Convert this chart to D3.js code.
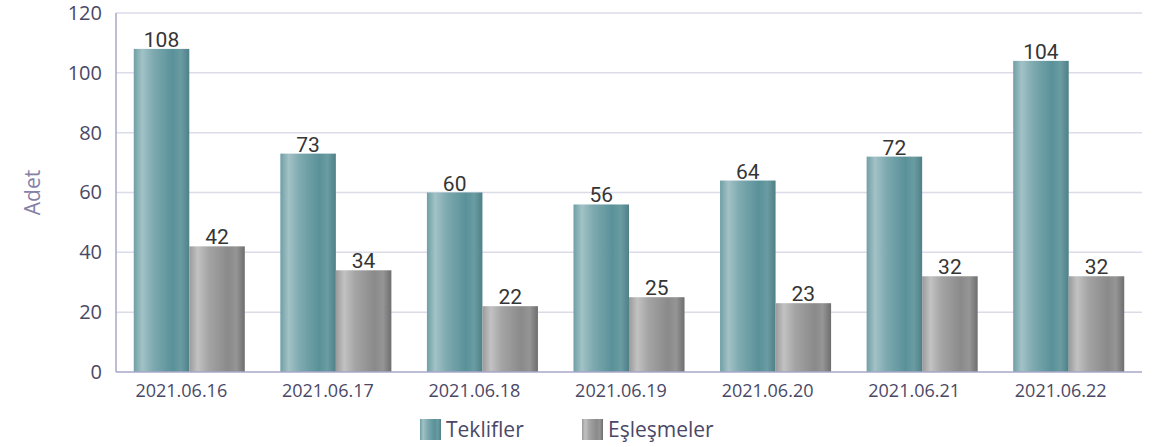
<!DOCTYPE html>
<html><head><meta charset="utf-8">
<script src="https://cdn.jsdelivr.net/npm/d3@7"></script>
<style>body{margin:0;background:#fff;}svg{display:block;font-family:"Open Sans",sans-serif;}</style>
</head><body>
<svg id="c" width="1155" height="447"></svg>
<script>
const categories = ["2021.06.16","2021.06.17","2021.06.18","2021.06.19","2021.06.20","2021.06.21","2021.06.22"];
const teklifler = [108,73,60,56,64,72,104];
const eslesmeler = [42,34,22,25,23,32,32];
const seriesNames = ["Teklifler","Eşleşmeler"];
const yTicks = [0,20,40,60,80,100,120];

const svg = d3.select("#c");
const m = {l:116, r:1142, t:13, b:372};
const x = d3.scaleBand().domain(categories).range([m.l, m.r]).paddingInner(0).paddingOuter(0);
const x1 = d3.scaleBand().domain(seriesNames).range([0, x.bandwidth()]).paddingOuter(0.32).paddingInner(0);
const y = d3.scaleLinear().domain([0,120]).range([m.b, m.t]);

const defs = svg.append("defs");
function grad(id, stops){
  const g = defs.append("linearGradient").attr("id",id).attr("x1","0").attr("x2","1").attr("y1","0").attr("y2","0");
  stops.forEach(s=>g.append("stop").attr("offset",s[0]).attr("stop-color",s[1]));
}
grad("gT",[[0,"#6f9fa5"],[0.15,"#a2c2c6"],[0.35,"#7eaab0"],[0.7,"#5a9199"],[0.85,"#6a9ca2"],[1,"#4f8088"]]);
grad("gE",[[0,"#9a9a9a"],[0.15,"#c2c2c2"],[0.35,"#a4a4a4"],[0.7,"#8a8a8a"],[0.85,"#959595"],[1,"#6e6e6e"]]);
const fills = {"Teklifler":"url(#gT)","Eşleşmeler":"url(#gE)"};

// gridlines
svg.append("g").selectAll("line").data(yTicks.filter(d=>d>0)).join("line")
  .attr("x1",m.l).attr("x2",m.r).attr("y1",d=>y(d)).attr("y2",d=>y(d))
  .attr("stroke","#dcdbe8").attr("stroke-width",1.5);

// y axis labels
const ya = svg.append("g").attr("transform",`translate(${m.l},0)`)
  .call(d3.axisLeft(y).tickValues(yTicks).tickSize(0).tickPadding(14));
ya.select(".domain").remove();
ya.selectAll("text").attr("font-size",20).attr("fill","#4a4866").attr("font-family","Open Sans");

// bars
const data = categories.map((c,i)=>({c, vals:[{s:"Teklifler",v:teklifler[i]},{s:"Eşleşmeler",v:eslesmeler[i]}]}));
const grp = svg.append("g").selectAll("g").data(data).join("g").attr("transform",d=>`translate(${x(d.c)},0)`);
grp.selectAll("rect").data(d=>d.vals).join("rect")
  .attr("x",d=>x1(d.s)).attr("width",x1.bandwidth())
  .attr("y",d=>y(d.v)).attr("height",d=>y(0)-y(d.v))
  .attr("fill",d=>fills[d.s]);
grp.selectAll("text").data(d=>d.vals).join("text")
  .attr("x",d=>x1(d.s)+x1.bandwidth()/2).attr("y",d=>y(d.v)-2)
  .attr("text-anchor","middle").attr("font-size",21).attr("font-family","Roboto").attr("fill","#353535")
  .text(d=>d.v);

// axis lines
svg.append("line").attr("x1",m.l).attr("x2",m.l).attr("y1",m.t).attr("y2",m.b).attr("stroke","#a9a7c9").attr("stroke-width",1.5);
svg.append("line").attr("x1",m.l).attr("x2",m.r).attr("y1",m.b).attr("y2",m.b).attr("stroke","#a9a7c9").attr("stroke-width",1.5);

// x labels
const xa = svg.append("g").attr("transform",`translate(-8,${m.b})`)
  .call(d3.axisBottom(x).tickSize(0).tickPadding(12));
xa.select(".domain").remove();
xa.selectAll("text").attr("font-size",18).attr("fill","#4a4866").attr("font-family","Open Sans");

// y title
svg.append("text").attr("transform",`translate(40,${(m.t+m.b)/2}) rotate(-90)`)
  .attr("text-anchor","middle").attr("font-size",21).attr("fill","#8581a8").text("Adet");

// legend
const legX = [420, 582];
const lg = svg.append("g").selectAll("g").data(seriesNames).join("g")
  .attr("transform",(d,i)=>`translate(${legX[i]},419)`);
lg.append("rect").attr("width",21).attr("height",21).attr("fill",d=>fills[d]);
lg.append("text").attr("x",26).attr("y",18).attr("font-size",21).attr("fill","#4a4866").text(d=>d);
</script>
</body></html>
